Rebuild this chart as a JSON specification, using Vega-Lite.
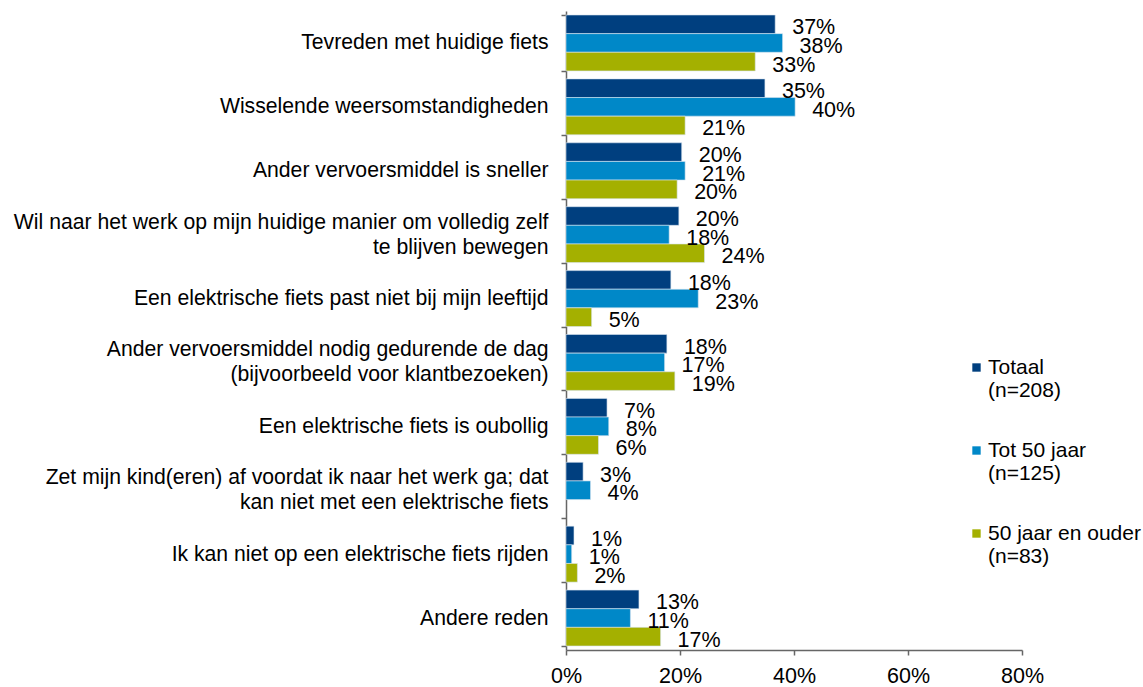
{
  "$schema": "https://vega.github.io/schema/vega-lite/v6.json",
  "autosize": {"type": "none"},
  "width": 456,
  "height": 639,
  "padding": {"left": 566, "top": 11, "right": 121, "bottom": 37},
  "background": "white",
  "config": {
    "view": {"stroke": null},
    "font": "Liberation Sans"
  },
  "data": {
    "values": [
      {"cat": "Tevreden met huidige fiets", "series": "Totaal\n(n=208)", "value": 0.367},
      {"cat": "Tevreden met huidige fiets", "series": "Tot 50 jaar\n(n=125)", "value": 0.38},
      {"cat": "Tevreden met huidige fiets", "series": "50 jaar en ouder\n(n=83)", "value": 0.332},
      {"cat": "Wisselende weersomstandigheden", "series": "Totaal\n(n=208)", "value": 0.349},
      {"cat": "Wisselende weersomstandigheden", "series": "Tot 50 jaar\n(n=125)", "value": 0.402},
      {"cat": "Wisselende weersomstandigheden", "series": "50 jaar en ouder\n(n=83)", "value": 0.209},
      {"cat": "Ander vervoersmiddel is sneller", "series": "Totaal\n(n=208)", "value": 0.203},
      {"cat": "Ander vervoersmiddel is sneller", "series": "Tot 50 jaar\n(n=125)", "value": 0.209},
      {"cat": "Ander vervoersmiddel is sneller", "series": "50 jaar en ouder\n(n=83)", "value": 0.195},
      {"cat": "Wil naar het werk op mijn huidige manier om volledig zelf\nte blijven bewegen", "series": "Totaal\n(n=208)", "value": 0.198},
      {"cat": "Wil naar het werk op mijn huidige manier om volledig zelf\nte blijven bewegen", "series": "Tot 50 jaar\n(n=125)", "value": 0.181},
      {"cat": "Wil naar het werk op mijn huidige manier om volledig zelf\nte blijven bewegen", "series": "50 jaar en ouder\n(n=83)", "value": 0.243},
      {"cat": "Een elektrische fiets past niet bij mijn leeftijd", "series": "Totaal\n(n=208)", "value": 0.184},
      {"cat": "Een elektrische fiets past niet bij mijn leeftijd", "series": "Tot 50 jaar\n(n=125)", "value": 0.232},
      {"cat": "Een elektrische fiets past niet bij mijn leeftijd", "series": "50 jaar en ouder\n(n=83)", "value": 0.045},
      {"cat": "Ander vervoersmiddel nodig gedurende de dag\n(bijvoorbeeld voor klantbezoeken)", "series": "Totaal\n(n=208)", "value": 0.177},
      {"cat": "Ander vervoersmiddel nodig gedurende de dag\n(bijvoorbeeld voor klantbezoeken)", "series": "Tot 50 jaar\n(n=125)", "value": 0.173},
      {"cat": "Ander vervoersmiddel nodig gedurende de dag\n(bijvoorbeeld voor klantbezoeken)", "series": "50 jaar en ouder\n(n=83)", "value": 0.191},
      {"cat": "Een elektrische fiets is oubollig", "series": "Totaal\n(n=208)", "value": 0.072},
      {"cat": "Een elektrische fiets is oubollig", "series": "Tot 50 jaar\n(n=125)", "value": 0.075},
      {"cat": "Een elektrische fiets is oubollig", "series": "50 jaar en ouder\n(n=83)", "value": 0.057},
      {"cat": "Zet mijn kind(eren) af voordat ik naar het werk ga; dat\nkan niet met een elektrische fiets", "series": "Totaal\n(n=208)", "value": 0.03},
      {"cat": "Zet mijn kind(eren) af voordat ik naar het werk ga; dat\nkan niet met een elektrische fiets", "series": "Tot 50 jaar\n(n=125)", "value": 0.043},
      {"cat": "Ik kan niet op een elektrische fiets rijden", "series": "Totaal\n(n=208)", "value": 0.014},
      {"cat": "Ik kan niet op een elektrische fiets rijden", "series": "Tot 50 jaar\n(n=125)", "value": 0.01},
      {"cat": "Ik kan niet op een elektrische fiets rijden", "series": "50 jaar en ouder\n(n=83)", "value": 0.02},
      {"cat": "Andere reden", "series": "Totaal\n(n=208)", "value": 0.128},
      {"cat": "Andere reden", "series": "Tot 50 jaar\n(n=125)", "value": 0.113},
      {"cat": "Andere reden", "series": "50 jaar en ouder\n(n=83)", "value": 0.166}
    ]
  },
  "encoding": {
    "y": {
      "field": "cat",
      "type": "nominal",
      "sort": null,
      "title": null,
      "scale": {"paddingInner": 0.125, "paddingOuter": 0.0625},
      "axis": {
        "labelExpr": "split(datum.label, '\\n')",
        "labelFont": "Liberation Sans",
        "labelFontSize": 21.2,
        "labelColor": "black",
        "labelLimit": 600,
        "labelPadding": 13,
        "labelLineHeight": 25,
        "labelOffset": {"condition": {"test": "isString(datum.value) && indexof(datum.value, '\\n') >= 0", "value": -12.5}, "value": 0},
        "tickBand": "extent",
        "tickSize": 5,
        "tickColor": "#666666",
        "domainColor": "#666666",
        "domainWidth": 1.5,
        "tickWidth": 1.5
      }
    },
    "yOffset": {
      "field": "series",
      "type": "nominal",
      "sort": ["Totaal\n(n=208)", "Tot 50 jaar\n(n=125)", "50 jaar en ouder\n(n=83)"],
      "scale": {"paddingInner": 0, "paddingOuter": 0}
    },
    "x": {
      "field": "value",
      "type": "quantitative",
      "title": null,
      "scale": {"domain": [0, 0.8]},
      "axis": {
        "format": ".0%",
        "values": [0, 0.2, 0.4, 0.6, 0.8],
        "grid": false,
        "labelFont": "Liberation Sans",
        "labelFontSize": 21.5,
        "labelColor": "black",
        "labelPadding": 10,
        "tickSize": 5,
        "tickColor": "#666666",
        "domainColor": "#666666",
        "domainWidth": 1.5,
        "tickWidth": 1.5,
        "labelFlush": false
      }
    }
  },
  "layer": [
    {
      "mark": {"type": "bar", "stroke": "#d8e4f0", "strokeWidth": 0.6},
      "encoding": {
        "color": {
          "field": "series",
          "type": "nominal",
          "sort": ["Totaal\n(n=208)", "Tot 50 jaar\n(n=125)", "50 jaar en ouder\n(n=83)"],
          "scale": {
            "domain": ["Totaal\n(n=208)", "Tot 50 jaar\n(n=125)", "50 jaar en ouder\n(n=83)"],
            "range": ["#003F7F", "#0088C8", "#A4B000"]
          },
          "legend": {
            "title": null,
            "orient": "none",
            "legendX": 400,
            "legendY": 346,
            "padding": 0,
            "symbolType": "square",
            "symbolSize": 70,
            "symbolStrokeWidth": 0,
            "labelOffset": 1,
            "labelFont": "Liberation Sans",
            "labelFontSize": 21,
            "labelColor": "black",
            "labelLimit": 300,
            "labelBaseline": "middle",
            "rowPadding": 38,
            "labelExpr": "split(datum.label, '\\n')"
          }
        }
      }
    },
    {
      "mark": {
        "type": "text",
        "align": "left",
        "baseline": "middle",
        "dx": 17,
        "dy": 4,
        "font": "Liberation Sans",
        "fontSize": 21.5,
        "color": "black"
      },
      "encoding": {
        "text": {"field": "value", "type": "quantitative", "format": ".0%"}
      }
    }
  ]
}
